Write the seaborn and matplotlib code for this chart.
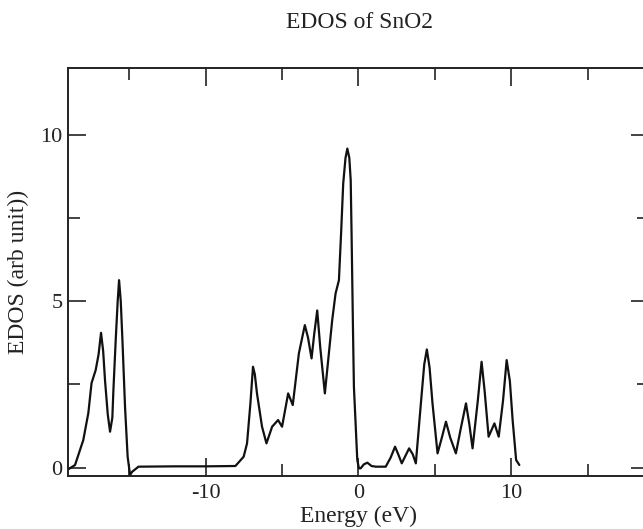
import matplotlib
matplotlib.use("Agg")
import matplotlib.pyplot as plt
import seaborn as sns
import pandas as pd
from matplotlib.ticker import MultipleLocator

# --------------
# Data (energy in eV, DOS in arb. units)
# --------------
energy = [-19.05, -18.54, -18.0, -17.67, -17.46, -17.19, -17.0, -16.84, -16.7,
          -16.58, -16.4, -16.25, -16.1, -16.03, -15.88, -15.75, -15.66, -15.55,
          -15.44, -15.27, -15.1, -14.94, -14.8, -14.66, -14.39, -12.0, -10.0,
          -8.05, -7.51, -7.29, -7.07, -6.9, -6.78, -6.64, -6.31, -6.02, -5.65,
          -5.26, -5.0, -4.6, -4.3, -3.9, -3.51, -3.3, -3.07, -2.9, -2.7, -2.5,
          -2.2, -1.72, -1.5, -1.28, -1.13, -1.0, -0.85, -0.73, -0.6, -0.51,
          -0.45, -0.36, -0.3, -0.08, 0.03, 0.14, 0.35, 0.58, 0.85, 1.13, 1.78,
          2.1, 2.39, 2.6, 2.83, 3.31, 3.55, 3.75, 4.08, 4.3, 4.47, 4.65, 4.84,
          5.17, 5.45, 5.72, 6.0, 6.37, 6.7, 7.03, 7.25, 7.46, 7.8, 8.05, 8.25,
          8.51, 8.89, 9.17, 9.45, 9.69, 9.9, 10.08, 10.31, 10.52]
dos = [-0.07, 0.08, 0.83, 1.64, 2.54, 2.93, 3.4, 4.05, 3.5,
       2.63, 1.6, 1.08, 1.5, 2.33, 3.83, 5.0, 5.63, 5.0,
       3.83, 1.83, 0.33, -0.22, -0.12, -0.07, 0.03, 0.04, 0.04,
       0.05, 0.33, 0.73, 1.93, 3.03, 2.8, 2.23, 1.23, 0.73, 1.23,
       1.43, 1.23, 2.23, 1.88, 3.43, 4.28, 3.9, 3.28, 4.0, 4.72, 3.6,
       2.23, 4.43, 5.23, 5.63, 7.13, 8.53, 9.3, 9.58, 9.3, 8.63,
       6.93, 4.13, 2.43, 0.23, -0.02, -0.02, 0.1, 0.15, 0.05, 0.03, 0.03,
       0.3, 0.63, 0.4, 0.13, 0.58, 0.4, 0.13, 1.93, 3.1, 3.55, 3.0, 1.93,
       0.43, 0.9, 1.38, 0.9, 0.43, 1.2, 1.93, 1.3, 0.58, 2.0, 3.18, 2.3,
       0.93, 1.33, 0.93, 2.0, 3.23, 2.6, 1.43, 0.23, 0.08]

title = "EDOS of SnO2"
x_label = "Energy (eV)"
y_label = "EDOS (arb unit))"

df = pd.DataFrame({"Energy": energy, "EDOS": dos})

# --------------
# Plot
# --------------
sns.set_theme(style="ticks")
plt.rcParams["font.family"] = ["Liberation Serif", "DejaVu Serif"]
plt.rcParams["axes.unicode_minus"] = False  # plain hyphen like the original

fig = plt.figure(figsize=(6.43, 5.29), dpi=100)
ax = fig.add_axes([68 / 643, 53 / 529, 581 / 643, 408 / 529])

sns.lineplot(data=df, x="Energy", y="EDOS", sort=False, color="#111111",
             linewidth=1.6, ax=ax)

ax.set_xlim(-19, 19)
ax.set_ylim(-0.25, 12)
ax.xaxis.set_major_locator(MultipleLocator(10))
ax.xaxis.set_minor_locator(MultipleLocator(5))
ax.yaxis.set_major_locator(MultipleLocator(5))
ax.yaxis.set_minor_locator(MultipleLocator(2.5))

ax.tick_params(which="both", direction="in", top=True, right=True,
               width=1.2, color="#222222", labelsize=16, labelcolor="#222222")
ax.tick_params(which="major", length=13)
ax.tick_params(which="minor", length=8.5)
ax.tick_params(axis="x", pad=6)
ax.tick_params(axis="y", pad=4)

for s in ax.spines.values():
    s.set_linewidth(1.4)
    s.set_color("#222222")

ax.set_xlabel(x_label, fontsize=17, color="#222222", labelpad=2)
ax.set_ylabel(y_label, fontsize=17, color="#222222", labelpad=8)
fig.text(359 / 643, 1 - 22 / 529, title, fontsize=17, ha="center",
         va="center", color="#222222")

fig.savefig("out.png", dpi=100)
plt.close()
